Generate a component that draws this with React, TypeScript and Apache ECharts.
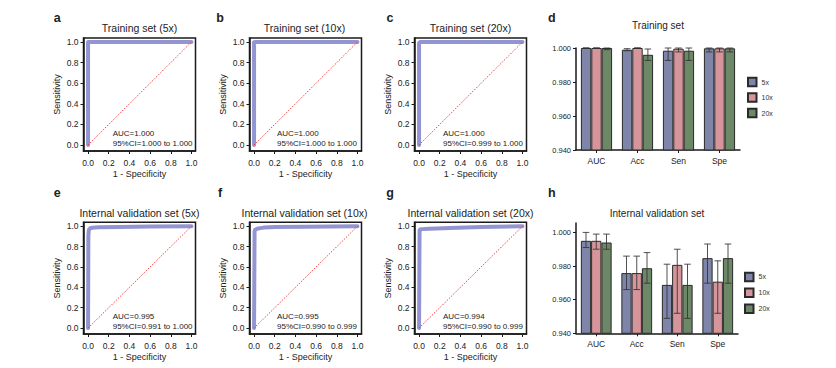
import React, { useEffect, useRef } from 'react';
import * as echarts from 'echarts';

const FONT = "'Liberation Sans', Arial, Helvetica, sans-serif";

// ---------- ROC panels ----------
const rocLetters = ['a', 'b', 'c', 'e', 'f', 'g'];
const rocTitles = [
  'Training set (5x)',
  'Training set (10x)',
  'Training set (20x)',
  'Internal validation set (5x)',
  'Internal validation set (10x)',
  'Internal validation set (20x)',
];
const rocAucText = ['AUC=1.000', 'AUC=1.000', 'AUC=1.000', 'AUC=0.995', 'AUC=0.995', 'AUC=0.994'];
const rocCiText = [
  '95%CI=1.000 to 1.000',
  '95%CI=1.000 to 1.000',
  '95%CI=0.999 to 1.000',
  '95%CI=0.991 to 1.000',
  '95%CI=0.990 to 0.999',
  '95%CI=0.990 to 0.999',
];

const fprA = [0, 0, 1];
const tprA = [0, 1, 1];
const fprB = [0, 0, 0.02, 1];
const tprB = [0, 0.997, 1, 1];
const fprC = [0, 0, 0.01, 1];
const tprC = [0, 0.99, 1, 1];
const fprE = [0, 0.003, 0.006, 0.01, 0.02, 0.04, 0.1, 0.3, 0.6, 1];
const tprE = [0, 0.9, 0.95, 0.97, 0.98, 0.985, 0.99, 0.993, 0.997, 1];
const fprF = [0, 0.005, 0.01, 0.03, 0.06, 0.1, 0.2, 0.5, 1];
const tprF = [0, 0.95, 0.965, 0.975, 0.982, 0.988, 0.992, 0.996, 1];
const fprG = [0, 0.005, 0.01, 0.03, 0.1, 0.3, 0.6, 1];
const tprG = [0, 0.96, 0.968, 0.972, 0.976, 0.984, 0.992, 1];

const rocFprList = [fprA, fprB, fprC, fprE, fprF, fprG];
const rocTprList = [tprA, tprB, tprC, tprE, tprF, tprG];
const diagonal = [0, 1];
const rocTicks = [0, 0.2, 0.4, 0.6, 0.8, 1.0];

// ---------- Bar panels ----------
const barCategories = ['AUC', 'Acc', 'Sen', 'Spe'];
const barSeriesNames = ['5x', '10x', '20x'];
const barTicks = [0.94, 0.96, 0.98, 1.0];

// Training set (d)
const train5x = [1.0, 0.999, 0.9984, 0.9998];
const train5xLow = [1.0, 0.9984, 0.9927, 0.9977];
const train5xHigh = [1.0, 0.9996, 1.0, 1.0];
const train10x = [1.0, 1.0, 0.9996, 0.9998];
const train10xLow = [1.0, 1.0, 0.9977, 0.9977];
const train10xHigh = [1.0, 1.0, 1.0, 1.0];
const train20x = [1.0, 0.996, 0.9984, 0.9998];
const train20xLow = [0.999, 0.9927, 0.9927, 0.9977];
const train20xHigh = [1.0, 0.9994, 1.0, 1.0];

// Internal validation set (h)
const val5x = [0.995, 0.9758, 0.9688, 0.9847];
const val5xLow = [0.991, 0.966, 0.9489, 0.9698];
const val5xHigh = [1.0, 0.9859, 0.9811, 0.9931];
const val10x = [0.995, 0.9758, 0.9807, 0.9707];
const val10xLow = [0.99, 0.966, 0.9519, 0.9519];
const val10xHigh = [0.999, 0.9859, 0.99, 0.9831];
const val20x = [0.994, 0.9787, 0.9688, 0.9847];
const val20xLow = [0.99, 0.9698, 0.9489, 0.9698];
const val20xHigh = [0.999, 0.988, 0.9811, 0.9931];

const barColors = ['#7e85a8', '#d6959a', '#6c8866'];

const trainMeans = [train5x, train10x, train20x];
const trainLows = [train5xLow, train10xLow, train20xLow];
const trainHighs = [train5xHigh, train10xHigh, train20xHigh];
const valMeans = [val5x, val10x, val20x];
const valLows = [val5xLow, val10xLow, val20xLow];
const valHighs = [val5xHigh, val10xHigh, val20xHigh];

// ---------- layout ----------
const rocLefts = [83.5, 249.5, 414.5];
const rocTops = [38, 222.3];
const rocW = 112;
const rocH = 113;
const rocTitleX = [139.5, 304.5, 470.5];
const rocTitleY = [28.3, 212.5];
const letterX = [57.3, 220, 390];
const letterY = [18, 193.3];
const aucX = [112.7, 277, 443];
const aucY = [[133.3, 143], [316.5, 326]];

const INK = '#1a1a1a';
const TXT = '#222';

function txt(x: number, y: number, text: string, size: number, align: string, weight = 'normal') {
  return {
    type: 'text',
    x,
    y,
    silent: true,
    style: {
      text,
      fontSize: size,
      fontFamily: FONT,
      fontWeight: weight,
      fill: TXT,
      align,
      verticalAlign: 'middle',
      textAlign: align,
      textVerticalAlign: 'middle',
    },
  };
}

function buildOption() {
  const grid: any[] = [];
  const xAxis: any[] = [];
  const yAxis: any[] = [];
  const series: any[] = [];
  const graphic: any[] = [];

  for (let i = 0; i < 6; i++) {
    const col = i % 3;
    const row = Math.floor(i / 3);
    grid.push({
      left: rocLefts[col],
      top: rocTops[row],
      width: rocW,
      height: row === 0 ? rocH : 111.7,
      show: true,
      borderColor: INK,
      borderWidth: 1.5,
      backgroundColor: 'transparent',
    });
    xAxis.push({
      type: 'value',
      gridIndex: i,
      min: -0.044,
      max: 1.039,
      axisLine: { show: true, onZero: false, lineStyle: { color: INK, width: 1.5 } },
      axisTick: { show: true, customValues: rocTicks, length: 3, lineStyle: { color: INK, width: 1 } },
      axisLabel: {
        customValues: rocTicks,
        formatter: (v: number) => v.toFixed(1),
        fontSize: 8.5,
        color: TXT,
        margin: 7,
        fontFamily: FONT,
      },
      splitLine: { show: false },
      name: '1 - Specificity',
      nameLocation: 'middle',
      nameGap: 18,
      nameTextStyle: { fontSize: 9, color: TXT, fontFamily: FONT },
    });
    yAxis.push({
      type: 'value',
      gridIndex: i,
      min: -0.058,
      max: 1.039,
      axisLine: { show: true, onZero: false, lineStyle: { color: INK, width: 1.5 } },
      axisTick: { show: true, customValues: rocTicks, length: 3, lineStyle: { color: INK, width: 1 } },
      axisLabel: {
        customValues: rocTicks,
        formatter: (v: number) => v.toFixed(1),
        fontSize: 8.5,
        color: TXT,
        margin: 5,
        fontFamily: FONT,
      },
      splitLine: { show: false },
      name: 'Sensitivity',
      nameLocation: 'middle',
      nameGap: 22,
      nameTextStyle: { fontSize: 9, color: TXT, fontFamily: FONT },
    });
    series.push({
      type: 'line',
      xAxisIndex: i,
      yAxisIndex: i,
      data: diagonal.map((v) => [v, v]),
      showSymbol: false,
      silent: true,
      lineStyle: { color: '#f03c3c', width: 1, type: [1.5, 1.5] },
      z: 3,
    });
    const fpr = rocFprList[i];
    const tpr = rocTprList[i];
    series.push({
      type: 'line',
      xAxisIndex: i,
      yAxisIndex: i,
      data: fpr.map((x, j) => [x, tpr[j]]),
      showSymbol: false,
      silent: true,
      lineStyle: { color: '#8c8fcf', width: 4, opacity: 0.95, join: 'round', cap: 'round' },
      z: 2,
    });
    graphic.push(txt(rocTitleX[col], rocTitleY[row], rocTitles[i], 10.5, 'center'));
    graphic.push(txt(letterX[col], letterY[row], rocLetters[i], 12.5, 'center', 'bold'));
    graphic.push(txt(aucX[col], aucY[row][0], rocAucText[i], 8, 'left'));
    graphic.push(txt(aucX[col], aucY[row][1], rocCiText[i], 8, 'left'));
  }

  // bar grids
  const barGrids = [
    { left: 576, top: 48, width: 164, height: 102 },
    { left: 576, top: 223, width: 162, height: 110.3 },
  ];
  const barMax = [1.0, 1.0056];
  const means = [trainMeans, valMeans];
  const lows = [trainLows, valLows];
  const highs = [trainHighs, valHighs];

  for (let g = 0; g < 2; g++) {
    const idx = 6 + g;
    grid.push({ ...barGrids[g], show: false });
    xAxis.push({
      type: 'category',
      gridIndex: idx,
      data: barCategories,
      axisLine: { show: true, lineStyle: { color: INK, width: 1.5 } },
      axisTick: { show: true, alignWithLabel: true, length: 3, lineStyle: { color: INK, width: 1 } },
      axisLabel: { fontSize: 8.5, margin: 6, color: TXT, fontFamily: FONT },
      splitLine: { show: false },
    });
    yAxis.push({
      type: 'value',
      gridIndex: idx,
      min: 0.94,
      max: barMax[g],
      axisLine: { show: true, onZero: false, lineStyle: { color: INK, width: 1.5 } },
      axisTick: { show: true, customValues: barTicks, length: 3, lineStyle: { color: INK, width: 1 } },
      axisLabel: {
        customValues: barTicks,
        formatter: (v: number) => v.toFixed(3),
        fontSize: 7.5,
        margin: 5,
        color: TXT,
        fontFamily: FONT,
      },
      splitLine: { show: false },
    });
    for (let k = 0; k < 3; k++) {
      series.push({
        type: 'bar',
        name: barSeriesNames[k],
        xAxisIndex: idx,
        yAxisIndex: idx,
        data: means[g][k],
        barGap: '0%',
        barCategoryGap: '24%',
        itemStyle: { color: barColors[k], borderColor: '#2a2a2a', borderWidth: 1 },
        silent: true,
        z: 2,
      });
    }
    for (let k = 0; k < 3; k++) {
      const lo = lows[g][k];
      const hi = highs[g][k];
      series.push({
        type: 'custom',
        name: 'err' + g + k,
        xAxisIndex: idx,
        yAxisIndex: idx,
        silent: true,
        z: 5,
        encode: { x: 0, y: [1, 2] },
        data: barCategories.map((_, c) => [c, lo[c], hi[c]]),
        renderItem: (params: any, api: any) => {
          const cat = api.value(0);
          const l = api.value(1);
          const h = api.value(2);
          const band = api.size([1, 0])[0];
          const bw = (band * 0.76) / 3;
          const pLo = api.coord([cat, l]);
          const pHi = api.coord([cat, h]);
          const x = pLo[0] + (k - 1) * bw;
          const cap = 3.3;
          const st = { stroke: '#333', lineWidth: 1, opacity: 0.85 };
          return {
            type: 'group',
            children: [
              { type: 'line', shape: { x1: x, y1: pLo[1], x2: x, y2: pHi[1] }, style: st },
              { type: 'line', shape: { x1: x - cap, y1: pLo[1], x2: x + cap, y2: pLo[1] }, style: st },
              { type: 'line', shape: { x1: x - cap, y1: pHi[1], x2: x + cap, y2: pHi[1] }, style: st },
            ],
          };
        },
      });
    }
  }

  graphic.push(txt(658, 25, 'Training set', 10, 'center'));
  graphic.push(txt(657, 213.3, 'Internal validation set', 10, 'center'));
  graphic.push(txt(551.7, 18.3, 'd', 12.5, 'center', 'bold'));
  graphic.push(txt(551.7, 193.3, 'h', 12.5, 'center', 'bold'));

  const legendBase = {
    data: barSeriesNames,
    orient: 'vertical',
    itemWidth: 8.5,
    itemHeight: 8.5,
    icon: 'rect',
    selectedMode: false,
    padding: 0,
    textStyle: { fontSize: 7, color: '#333', fontFamily: FONT },
  };

  return {
    animation: false,
    backgroundColor: '#ffffff',
    textStyle: { fontFamily: FONT },
    grid,
    xAxis,
    yAxis,
    series,
    graphic,
    legend: [
      { ...legendBase, left: 747, top: 76.8, itemGap: 5 },
      { ...legendBase, left: 744, top: 271.7, itemGap: 5.35 },
    ],
  };
}

export default function App() {
  const ref = useRef<HTMLDivElement>(null);
  useEffect(() => {
    document.body.style.margin = '0';
    if (!ref.current) return;
    const chart = echarts.init(ref.current, undefined, { renderer: 'svg' });
    chart.setOption(buildOption() as any);
    return () => {
      chart.dispose();
    };
  }, []);
  return <div ref={ref} style={{ width: 836, height: 368 }} />;
}
